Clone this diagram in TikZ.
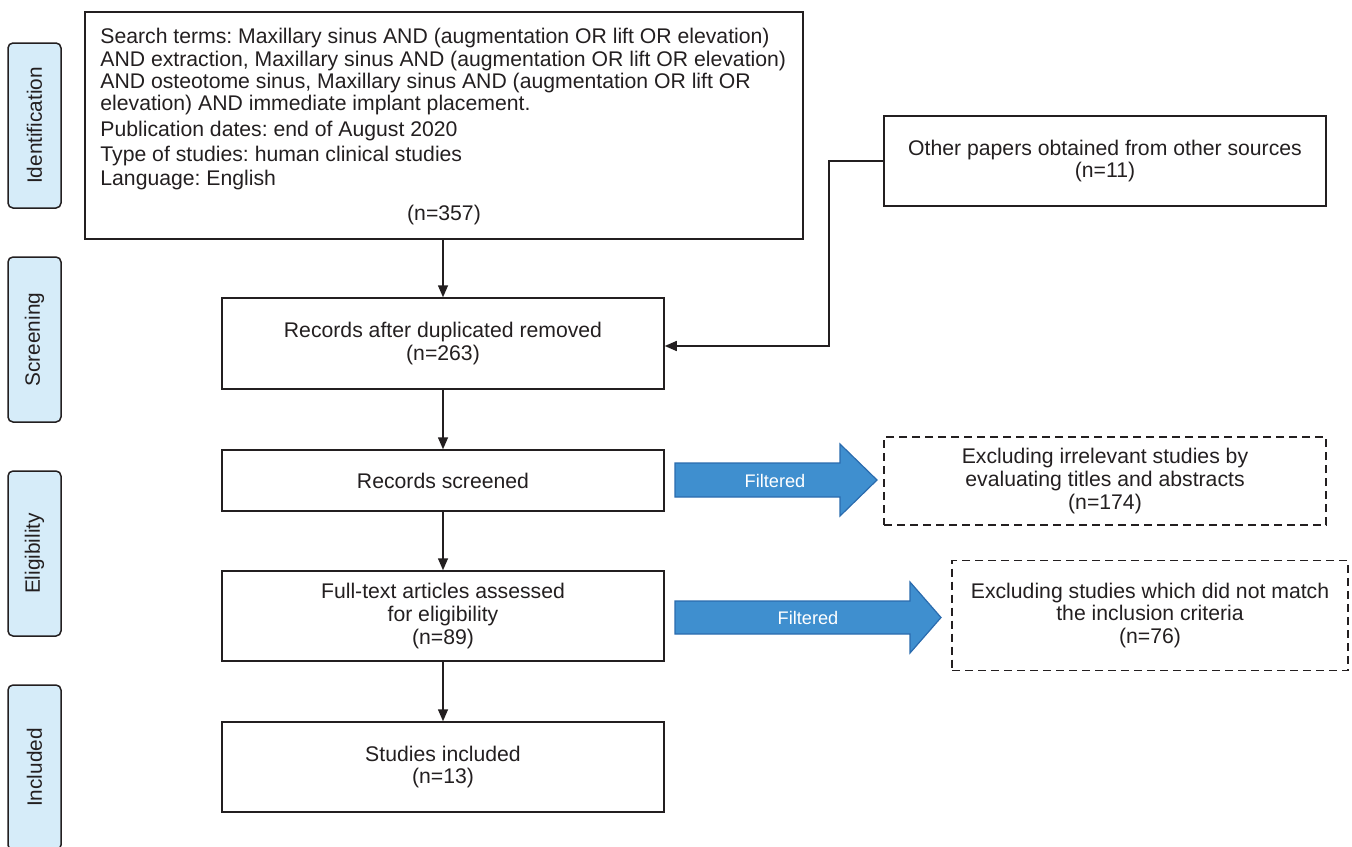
\documentclass[tikz,border=0pt]{standalone}
\usepackage{fontspec}
\setmainfont{Liberation Sans}
\usetikzlibrary{arrows.meta,calc}
\definecolor{sidefill}{HTML}{D6ECF9}
\definecolor{arrowfill}{HTML}{3F8FCF}
\definecolor{arrowline}{HTML}{2A6BAE}
\definecolor{linec}{HTML}{231F20}
\begin{document}
\frenchspacing
\begin{tikzpicture}[x=0.5pt,y=-0.5pt,
  every node/.style={font=\fontsize{10.6pt}{11.35pt}\selectfont, text=linec},
  sidebox/.style={draw=linec, line width=0.75pt, fill=sidefill, rounded corners=2.5pt,
     minimum width=26.5pt, minimum height=82.5pt, inner sep=0pt},
  sidelabel/.style={rotate=90, font=\fontsize{10.4pt}{12pt}\selectfont},
  box/.style={draw=linec, line width=0.75pt, inner sep=0pt, align=center},
  dbox/.style={box, dash pattern=on 4pt off 2.5pt},
  conn/.style={draw=linec, line width=0.75pt, -{Triangle[length=6pt,width=5pt]}},
  bigarrow/.style={fill=arrowfill, draw=arrowline, line width=0.6pt},
  filt/.style={font=\fontsize{9.1pt}{10pt}\selectfont, text=white}
]
\useasboundingbox (0,0) rectangle (1352,846);

% side boxes
\node[sidebox] (s1) at (34.5,125.5) {};
\node[sidelabel] (l1) at (s1.center) {Identification};
\node[sidebox] (s2) at (34.5,339.5) {};
\node[sidelabel] (l2) at (s2.center) {Screening};
\node[sidebox] (s3) at (34.5,553.5) {};
\node[sidelabel] (l3) at (s3.center) {Eligibility};
\node[sidebox] (s4) at (34.5,767.5) {};
\node[sidelabel] (l4) at (s4.center) {Included};

% search box
\node[box, minimum width=359pt, minimum height=113.5pt] (search) at (444,125.5) {};
\node[anchor=north west, inner sep=0pt, align=left, font=\fontsize{10.6pt}{11.15pt}\selectfont] (searchtxt) at (100,28)
{Search terms: Maxillary sinus AND (augmentation OR lift OR elevation)\\
AND extraction, Maxillary sinus AND (augmentation OR lift OR elevation)\\
AND osteotome sinus, Maxillary sinus AND (augmentation OR lift OR\\
elevation) AND immediate implant placement.\\[1.8pt]
Publication dates: end of August 2020\\[1.2pt]
Type of studies: human clinical studies\\[0.9pt]
Language: English};
\node[inner sep=0pt] (n357) at (444,215) {(n=357)};

% other sources
\node[box, minimum width=221pt, minimum height=45pt] (other) at (1105,161)
{Other papers obtained from other sources\\(n=11)};

% main column
\node[box, minimum width=221pt, minimum height=45.5pt] (rec) at (443,343.5)
{Records after duplicated removed\\(n=263)};
\node[box, minimum width=221pt, minimum height=30.5pt] (scr) at (443,480.5)
{Records screened};
\node[box, minimum width=221pt, minimum height=45pt] (full) at (443,616)
{Full-text articles assessed\\for eligibility\\(n=89)};
\node[box, minimum width=221pt, minimum height=45pt] (inc) at (443,767)
{Studies included\\(n=13)};

% excluded boxes
\node[dbox, minimum width=221pt, minimum height=44pt] (ex1) at (1105,481)
{Excluding irrelevant studies by\\evaluating titles and abstracts\\(n=174)};
\node[dbox, minimum width=198pt, minimum height=55pt] (ex2) at (1150,615.5)
{Excluding studies which did not match\\the inclusion criteria\\(n=76)};

% connectors
\draw[conn] (search.south -| rec.north) -- (rec.north);
\draw[conn] (rec) -- (scr);
\draw[conn] (scr) -- (full);
\draw[conn] (full) -- (inc);
\coordinate (elbow) at (829,346);
\draw[conn] (other.west) -| (elbow) -- (elbow -| rec.east);

% filtered arrows
\draw[bigarrow] (675,463) -- (840,463) -- (840,444) -- (877,480) -- (840,516) -- (840,497) -- (675,497) -- cycle;
\node[filt] (f1) at (775,480.5) {Filtered};
\draw[bigarrow] (675,601) -- (910,601) -- (910,582) -- (941,617.5) -- (910,653) -- (910,634) -- (675,634) -- cycle;
\node[filt] (f2) at (808,618) {Filtered};
\end{tikzpicture}
\end{document}
